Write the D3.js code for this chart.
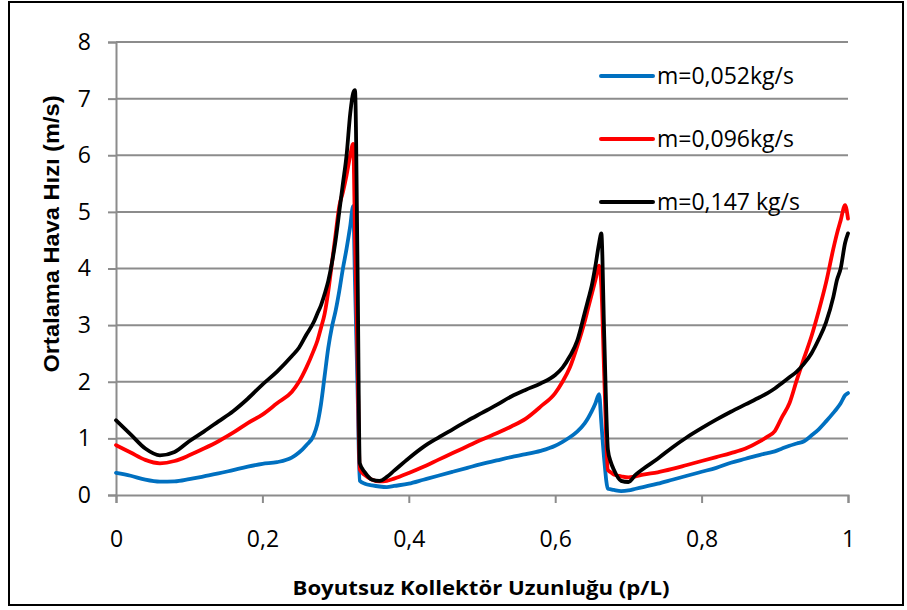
<!DOCTYPE html>
<html>
<head>
<meta charset="utf-8">
<script src="https://cdn.jsdelivr.net/npm/d3@7/dist/d3.min.js"></script>
<style>
  html, body { margin: 0; padding: 0; background: #fff; }
  svg { display: block; }
</style>
</head>
<body>
<svg id="chart" width="907" height="610"></svg>
<script>
// ---- Data ----
const xValues = [0, 0.02, 0.04, 0.06, 0.08, 0.10, 0.12, 0.14, 0.16, 0.18, 0.20, 0.22, 0.24, 0.25, 0.26, 0.27, 0.275, 0.28, 0.285, 0.29, 0.295, 0.30, 0.305, 0.31, 0.315, 0.32, 0.324, 0.3265, 0.33, 0.333, 0.34, 0.35, 0.36, 0.37, 0.38, 0.40, 0.42, 0.44, 0.46, 0.48, 0.50, 0.52, 0.54, 0.56, 0.58, 0.60, 0.61, 0.62, 0.63, 0.64, 0.645, 0.65, 0.655, 0.66, 0.663, 0.667, 0.672, 0.676, 0.68, 0.69, 0.70, 0.71, 0.72, 0.74, 0.76, 0.78, 0.80, 0.82, 0.84, 0.86, 0.88, 0.89, 0.90, 0.91, 0.92, 0.93, 0.94, 0.95, 0.96, 0.97, 0.98, 0.985, 0.99, 0.996, 1.0];

const blueValues = [0.39, 0.34, 0.27, 0.235, 0.24, 0.28, 0.33, 0.38, 0.44, 0.50, 0.55, 0.58, 0.66, 0.75, 0.88, 1.05, 1.25, 1.6, 2.1, 2.6, 2.97, 3.25, 3.6, 4.0, 4.35, 4.75, 5.1, 3.75, 1.87, 0.25, 0.20, 0.17, 0.15, 0.14, 0.16, 0.20, 0.27, 0.34, 0.41, 0.48, 0.55, 0.61, 0.67, 0.72, 0.78, 0.87, 0.94, 1.02, 1.12, 1.26, 1.36, 1.48, 1.62, 1.78, 1.28, 0.62, 0.11, 0.10, 0.09, 0.07, 0.08, 0.11, 0.14, 0.20, 0.27, 0.34, 0.41, 0.48, 0.57, 0.64, 0.71, 0.74, 0.77, 0.82, 0.87, 0.91, 0.95, 1.05, 1.16, 1.30, 1.45, 1.53, 1.62, 1.76, 1.80];

const redValues = [0.88, 0.75, 0.62, 0.56, 0.60, 0.70, 0.82, 0.95, 1.10, 1.27, 1.42, 1.62, 1.82, 2.0, 2.25, 2.55, 2.72, 2.95, 3.2, 3.6, 4.1, 4.6, 5.1, 5.35, 5.65, 6.0, 6.2, 4.6, 2.37, 0.45, 0.35, 0.27, 0.24, 0.25, 0.29, 0.39, 0.50, 0.62, 0.74, 0.86, 0.98, 1.09, 1.21, 1.35, 1.56, 1.80, 2.0, 2.25, 2.62, 3.05, 3.3, 3.55, 3.8, 4.05, 3.7, 2.1, 0.44, 0.40, 0.36, 0.33, 0.31, 0.33, 0.36, 0.40, 0.46, 0.53, 0.60, 0.67, 0.74, 0.82, 0.95, 1.03, 1.13, 1.38, 1.62, 2.03, 2.42, 2.80, 3.25, 3.75, 4.35, 4.62, 4.85, 5.12, 4.88];

const blackValues = [1.32, 1.07, 0.82, 0.70, 0.76, 0.95, 1.12, 1.30, 1.48, 1.70, 1.95, 2.18, 2.45, 2.6, 2.83, 3.05, 3.2, 3.35, 3.55, 3.78, 4.1, 4.5, 5.0, 5.5, 6.0, 6.74, 7.1, 7.15, 4.0, 0.56, 0.40, 0.27, 0.25, 0.32, 0.43, 0.65, 0.85, 1.01, 1.16, 1.31, 1.45, 1.59, 1.74, 1.86, 1.97, 2.12, 2.25, 2.45, 2.72, 3.2, 3.45, 3.7, 4.05, 4.45, 4.62, 2.8, 0.8, 0.58, 0.45, 0.25, 0.23, 0.36, 0.46, 0.64, 0.84, 1.02, 1.18, 1.33, 1.47, 1.60, 1.73, 1.80, 1.88, 1.98, 2.08, 2.18, 2.32, 2.50, 2.75, 3.05, 3.50, 3.8, 4.0, 4.45, 4.62];

const seriesNames = ["m=0,052kg/s", "m=0,096kg/s", "m=0,147 kg/s"];
const seriesColors = ["#0070C0", "#FF0000", "#000000"];
const xTicks = [0, 0.2, 0.4, 0.6, 0.8, 1];
const xTickLabels = ["0", "0,2", "0,4", "0,6", "0,8", "1"];
const yTicks = [0, 1, 2, 3, 4, 5, 6, 7, 8];
const xTitle = "Boyutsuz Kollektör Uzunluğu (p/L)";
const yTitle = "Ortalama Hava Hızı (m/s)";

// ---- Layout ----
const svg = d3.select("#chart");
const plot = { left: 116, right: 848, top: 42, bottom: 495 };
const x = d3.scaleLinear().domain([0, 1]).range([plot.left, plot.right]);
const y = d3.scaleLinear().domain([0, 8]).range([plot.bottom, plot.top]);
const gridColor = "#8c8c8c";
const tickFont = "'Open Sans', 'Noto Sans', sans-serif";

// outer frame
svg.append("rect")
  .attr("x", 9).attr("y", 2).attr("width", 894).attr("height", 603)
  .attr("fill", "#fff").attr("stroke", "#000").attr("stroke-width", 2);

// horizontal gridlines
svg.append("g").selectAll("line").data(yTicks.filter(d => d > 0)).join("line")
  .attr("x1", plot.left).attr("x2", plot.right)
  .attr("y1", d => y(d)).attr("y2", d => y(d))
  .attr("stroke", gridColor).attr("stroke-width", 2);

// Y axis
const yAxis = svg.append("g")
  .attr("transform", `translate(${plot.left},0)`)
  .call(d3.axisLeft(y).tickValues(yTicks).tickSize(8).tickPadding(17).tickFormat(d3.format("d")));
yAxis.select(".domain").attr("stroke", gridColor).attr("stroke-width", 2);
yAxis.selectAll(".tick line").attr("stroke", gridColor).attr("stroke-width", 2);
yAxis.selectAll(".tick text")
  .attr("font-family", tickFont).attr("font-size", 23).attr("fill", "#000");

// X axis
const xAxis = svg.append("g")
  .attr("transform", `translate(0,${plot.bottom})`)
  .call(d3.axisBottom(x).tickValues(xTicks).tickSize(8).tickPadding(28)
    .tickFormat((d, i) => xTickLabels[i]));
xAxis.select(".domain").attr("stroke", gridColor).attr("stroke-width", 2);
xAxis.selectAll(".tick line").attr("stroke", gridColor).attr("stroke-width", 2);
xAxis.selectAll(".tick text")
  .attr("font-family", tickFont).attr("font-size", 23).attr("fill", "#000");

// series lines
const allSeries = [blueValues, redValues, blackValues];
const line = d3.line().x(d => x(d[0])).y(d => y(d[1])).curve(d3.curveMonotoneX);
allSeries.forEach((vals, i) => {
  const pts = xValues.map((xv, j) => [xv, vals[j]]);
  svg.append("path")
    .datum(pts)
    .attr("d", line)
    .attr("fill", "none")
    .attr("stroke", seriesColors[i])
    .attr("stroke-width", 3.8)
    .attr("stroke-linejoin", "round")
    .attr("stroke-linecap", "round");
});

// legend
const legendY = [76, 139, 202];
const legend = svg.append("g");
seriesNames.forEach((name, i) => {
  legend.append("line")
    .attr("x1", 601).attr("x2", 653)
    .attr("y1", legendY[i]).attr("y2", legendY[i])
    .attr("stroke", seriesColors[i]).attr("stroke-width", 4)
    .attr("stroke-linecap", "round");
  legend.append("text")
    .attr("x", 657).attr("y", legendY[i] + 8)
    .attr("font-family", tickFont).attr("font-size", 23)
    .attr("fill", "#000")
    .text(name);
});

// axis titles
svg.append("text")
  .attr("x", 481).attr("y", 595)
  .attr("text-anchor", "middle")
  .attr("font-family", "'Open Sans', 'Noto Sans', sans-serif")
  .attr("font-weight", "bold").attr("font-size", 20)
  .attr("textLength", 377).attr("lengthAdjust", "spacingAndGlyphs")
  .text(xTitle);

svg.append("text")
  .attr("transform", "translate(59,234) rotate(-90)")
  .attr("text-anchor", "middle")
  .attr("font-family", "'Liberation Sans', Arial, sans-serif")
  .attr("font-weight", "bold").attr("font-size", 22)
  .attr("textLength", 277).attr("lengthAdjust", "spacingAndGlyphs")
  .text(yTitle);
</script>
</body>
</html>
